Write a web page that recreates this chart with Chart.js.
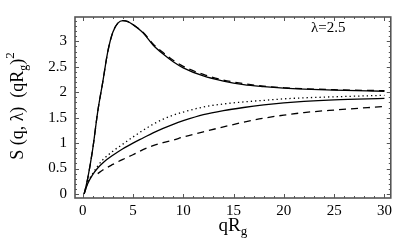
<!DOCTYPE html>
<html>
<head>
<meta charset="utf-8">
<script src="https://cdn.jsdelivr.net/npm/chart.js@4.4.0/dist/chart.umd.min.js"></script>
<style>
  html, body { margin: 0; padding: 0; background: #fff; }
  #wrap { width: 396px; height: 243px; position: relative; }
</style>
</head>
<body>
<div id="wrap"><canvas id="c"></canvas></div>
<script>
// --- data ---
const upperX      = [0.15, 0.5, 1, 1.5, 2, 2.5, 3, 3.5, 4, 4.5, 5, 6, 7, 8, 9, 10, 12, 14, 16, 18, 20, 22, 25, 30];
const upperSolid  = [0, 0.3, 0.88, 1.62, 2.2, 2.8, 3.18, 3.36, 3.41, 3.39, 3.33, 3.17, 2.93, 2.75, 2.6, 2.48, 2.32, 2.22, 2.15, 2.11, 2.08, 2.06, 2.04, 2.02];
const upperDashed = [0, 0.3, 0.88, 1.62, 2.2, 2.8, 3.18, 3.36, 3.41, 3.39, 3.33, 3.18, 2.95, 2.78, 2.63, 2.51, 2.35, 2.24, 2.17, 2.12, 2.09, 2.07, 2.05, 2.03];

const lowerX      = [0.15, 0.5, 1, 1.5, 2, 3, 4, 5, 6, 7, 8, 9, 10, 12, 14, 16, 18, 20, 22, 25, 30];
const lowerSolid  = [0, 0.2, 0.38, 0.51, 0.61, 0.76, 0.89, 1.0, 1.1, 1.2, 1.29, 1.37, 1.44, 1.56, 1.64, 1.7, 1.75, 1.79, 1.82, 1.85, 1.88];
const lowerDotted = [0, 0.22, 0.4, 0.55, 0.67, 0.84, 0.98, 1.12, 1.25, 1.37, 1.47, 1.55, 1.61, 1.71, 1.77, 1.81, 1.84, 1.87, 1.89, 1.91, 1.94];

const dashedX     = [1.5, 2, 3, 4, 5, 6, 7, 8, 9, 10, 12, 14, 16, 18, 20, 22, 25, 30];
const lowerDashed = [0.4, 0.47, 0.58, 0.68, 0.77, 0.87, 0.95, 1.01, 1.06, 1.12, 1.22, 1.32, 1.41, 1.49, 1.55, 1.6, 1.65, 1.72];

const xTicks = [0, 5, 10, 15, 20, 25, 30];
const yTicks = [0, 0.5, 1, 1.5, 2, 2.5, 3];

const serif = '"Liberation Serif", "DejaVu Serif", serif';

function pts(xs, ys) {
    return xs.map((x, i) => ({ x: x, y: ys[i] }));
}

function line(xs, ys, dash, width) {
    return {
        data: pts(xs, ys),
        borderColor: '#000',
        borderWidth: width || 1.3,
        borderDash: dash || [],
        pointRadius: 0,
        fill: false,
        cubicInterpolationMode: 'monotone'
    };
}

// frame, inward ticks on all sides, axis titles and the lambda note
const decor = {
    id: 'decor',
    afterDraw(chart) {
        const ctx = chart.ctx;
        const a = chart.chartArea;
        const xs = chart.scales.x, ys = chart.scales.y;
        ctx.save();
        ctx.strokeStyle = '#555';
        ctx.lineWidth = 1;
        ctx.beginPath();
        for (let v = 0; v <= 30; v += 1) {
            const px = Math.round(xs.getPixelForValue(v)) + 0.5;
            const len = v % 5 === 0 ? 4 : 2;
            ctx.moveTo(px, a.bottom); ctx.lineTo(px, a.bottom - len);
            ctx.moveTo(px, a.top); ctx.lineTo(px, a.top + len);
        }
        for (let k = 0; k <= 34; k++) {
            const py = Math.round(ys.getPixelForValue(k / 10)) + 0.5;
            const len = k % 5 === 0 ? 4 : 2;
            ctx.moveTo(a.left, py); ctx.lineTo(a.left + len, py);
            ctx.moveTo(a.right, py); ctx.lineTo(a.right - len, py);
        }
        ctx.stroke();
        ctx.lineWidth = 1.6;
        ctx.strokeRect(a.left, a.top, a.right - a.left, a.bottom - a.top);

        ctx.fillStyle = '#000';
        // x title: qR with subscript g
        ctx.textBaseline = 'alphabetic';
        const cx = (a.left + a.right) / 2;
        ctx.font = '19px ' + serif;
        const wq = ctx.measureText('qR').width;
        ctx.font = '13px ' + serif;
        const wg = ctx.measureText('g').width;
        const x0 = cx - (wq + wg) / 2;
        ctx.font = '19px ' + serif;
        ctx.fillText('qR', x0, 231);
        ctx.font = '13px ' + serif;
        ctx.fillText('g', x0 + wq, 235);

        // y title, rotated
        ctx.save();
        ctx.translate(23, 106);
        ctx.rotate(-Math.PI / 2);
        const parts = [
            { t: 'S (q, \u03bb)  (qR', f: 18, dy: 0 },
            { t: 'g', f: 12, dy: 4 },
            { t: ')', f: 18, dy: 0 },
            { t: '2', f: 13, dy: -9 }
        ];
        let total = 0;
        parts.forEach(p => { ctx.font = p.f + 'px ' + serif; p.w = ctx.measureText(p.t).width; total += p.w; });
        let tx = -total / 2;
        parts.forEach(p => {
            ctx.font = p.f + 'px ' + serif;
            ctx.fillText(p.t, tx, p.dy);
            tx += p.w;
        });
        ctx.restore();

        // lambda note
        ctx.font = '15px ' + serif;
        ctx.fillText('\u03bb=2.5', 311, 32);
        ctx.restore();
    }
};

new Chart(document.getElementById('c'), {
    type: 'line',
    data: {
        datasets: [
            line(upperX, upperDashed, [7, 5]),
            line(upperX, upperSolid),
            line(lowerX, lowerDotted, [1.3, 3]),
            line(lowerX, lowerSolid),
            line(dashedX, lowerDashed, [7, 5])
        ]
    },
    options: {
        responsive: true,
        maintainAspectRatio: false,
        animation: false,
        layout: { padding: { top: 1, right: 3, left: 0, bottom: 0 } },
        plugins: { legend: { display: false }, tooltip: { enabled: false } },
        scales: {
            x: {
                type: 'linear',
                min: -0.76,
                max: 30.63,
                grid: { display: false, drawTicks: false },
                border: { display: false },
                afterBuildTicks: s => { s.ticks = xTicks.map(v => ({ value: v })); },
                afterFit: s => { s.height = 45; },
                ticks: { color: '#000', padding: 4, font: { family: serif, size: 15 }, maxRotation: 0,
                         callback: v => String(v) }
            },
            y: {
                type: 'linear',
                min: -0.08,
                max: 3.48,
                grid: { display: false, drawTicks: false },
                border: { display: false },
                afterBuildTicks: s => { s.ticks = yTicks.map(v => ({ value: v })); },
                afterFit: s => { s.width = 75; },
                ticks: { color: '#000', padding: 8, font: { family: serif, size: 15 },
                         callback: v => String(v) }
            }
        }
    },
    plugins: [decor]
});
</script>
</body>
</html>
